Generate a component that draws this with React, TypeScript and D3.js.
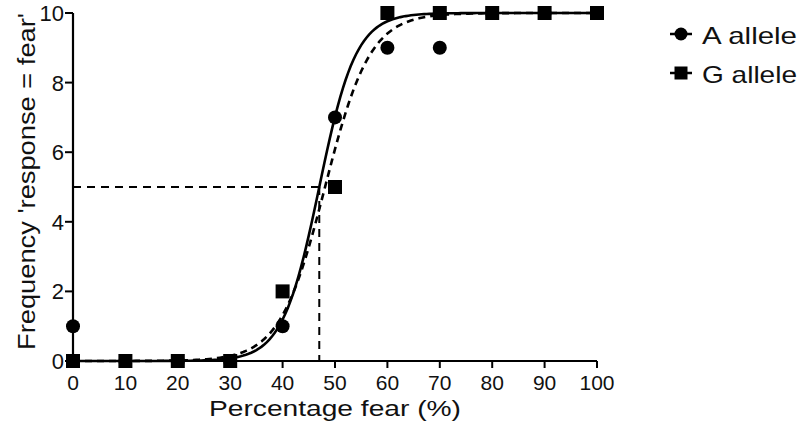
import React from "react";
import * as d3 from "d3";

const xValues = [0, 10, 20, 30, 40, 50, 60, 70, 80, 90, 100];
const aAllele = [1, 0, 0, 0, 1, 7, 9, 9, 10, 10, 10];
const gAllele = [0, 0, 0, 0, 2, 5, 10, 10, 10, 10, 10];
const xTicks = [0, 10, 20, 30, 40, 50, 60, 70, 80, 90, 100];
const yTicks = [0, 2, 4, 6, 8, 10];
// sigmoid fit parameters [midpoint, slope]
const fitA = [47, 3.5];
const fitG = [48.1, 4.3];
const refX = 47;
const refY = 5;

const W = 800;
const H = 425;
const x = d3.scaleLinear().domain([0, 100]).range([73, 597]);
const y = d3.scaleLinear().domain([0, 10]).range([361, 13]);

function sig(p: number[], v: number) {
  return 10 / (1 + Math.exp(-(v - p[0]) / p[1]));
}

export default function App() {
  const xs = d3.range(0, 100.01, 0.5);
  const line = d3
    .line<number[]>()
    .x((d) => x(d[0]))
    .y((d) => y(d[1]));
  const pathA = line(xs.map((v) => [v, sig(fitA, v)])) || "";
  const pathG = line(xs.map((v) => [v, sig(fitG, v)])) || "";
  const font = "Liberation Sans, Arial, sans-serif";
  const sq = 14;
  return (
    <svg width={W} height={H} style={{ position: "absolute", left: 0, top: 0, background: "#fff" }} fontFamily={font}>
      <rect x={0} y={0} width={W} height={H} fill="#fff" />
      {/* reference lines */}
      <line x1={x(0)} x2={x(refX)} y1={y(refY)} y2={y(refY)} stroke="#000" strokeWidth={2} strokeDasharray="8,6" />
      <line x1={x(refX)} x2={x(refX)} y1={y(refY)} y2={y(0)} stroke="#000" strokeWidth={2} strokeDasharray="8,6" />
      {/* fit curves */}
      <path d={pathA} fill="none" stroke="#000" strokeWidth={2.6} />
      <path d={pathG} fill="none" stroke="#000" strokeWidth={2.6} strokeDasharray="7,5" />
      {/* axes */}
      <line x1={x(0)} x2={x(100)} y1={y(0)} y2={y(0)} stroke="#000" strokeWidth={2.2} />
      <line x1={x(0)} x2={x(0)} y1={y(0)} y2={y(10)} stroke="#000" strokeWidth={2.2} />
      {xTicks.map((t) => (
        <g key={"x" + t}>
          <line x1={x(t)} x2={x(t)} y1={y(0)} y2={y(0) + 7} stroke="#000" strokeWidth={2} />
          <text x={x(t)} y={390} textAnchor="middle" fontSize={21} fill="#111">
            {t}
          </text>
        </g>
      ))}
      {yTicks.map((t) => (
        <g key={"y" + t}>
          <line x1={x(0) - 8} x2={x(0)} y1={y(t)} y2={y(t)} stroke="#000" strokeWidth={2} />
          <text x={x(0) - 9} y={y(t) + 8} textAnchor="end" fontSize={22} fill="#111">
            {t}
          </text>
        </g>
      ))}
      <text
        x={x(50)}
        y={416}
        textAnchor="middle"
        fontSize={22}
        fill="#111"
        textLength={252}
        lengthAdjust="spacingAndGlyphs"
      >
        Percentage fear (%)
      </text>
      <text
        transform={`translate(35,181.5) rotate(-90)`}
        textAnchor="middle"
        fontSize={23.5}
        fill="#111"
        textLength={337}
        lengthAdjust="spacingAndGlyphs"
      >
        Frequency 'response = fear'
      </text>
      {/* points */}
      {xValues.map((v, i) => (
        <circle key={"a" + i} cx={x(v)} cy={y(aAllele[i])} r={7} fill="#000" />
      ))}
      {xValues.map((v, i) => (
        <rect key={"g" + i} x={x(v) - sq / 2} y={y(gAllele[i]) - sq / 2} width={sq} height={sq} fill="#000" />
      ))}
      {/* legend */}
      <line x1={670} x2={692} y1={34} y2={34} stroke="#000" strokeWidth={2.5} />
      <circle cx={681} cy={34} r={6.5} fill="#000" />
      <text x={702} y={44} fontSize={24} fill="#111" textLength={95} lengthAdjust="spacingAndGlyphs">
        A allele
      </text>
      <line x1={670} x2={692} y1={73} y2={73} stroke="#000" strokeWidth={2.5} />
      <rect x={674.5} y={66.5} width={13} height={13} fill="#000" />
      <text x={702} y={83} fontSize={24} fill="#111" textLength={95} lengthAdjust="spacingAndGlyphs">
        G allele
      </text>
    </svg>
  );
}
